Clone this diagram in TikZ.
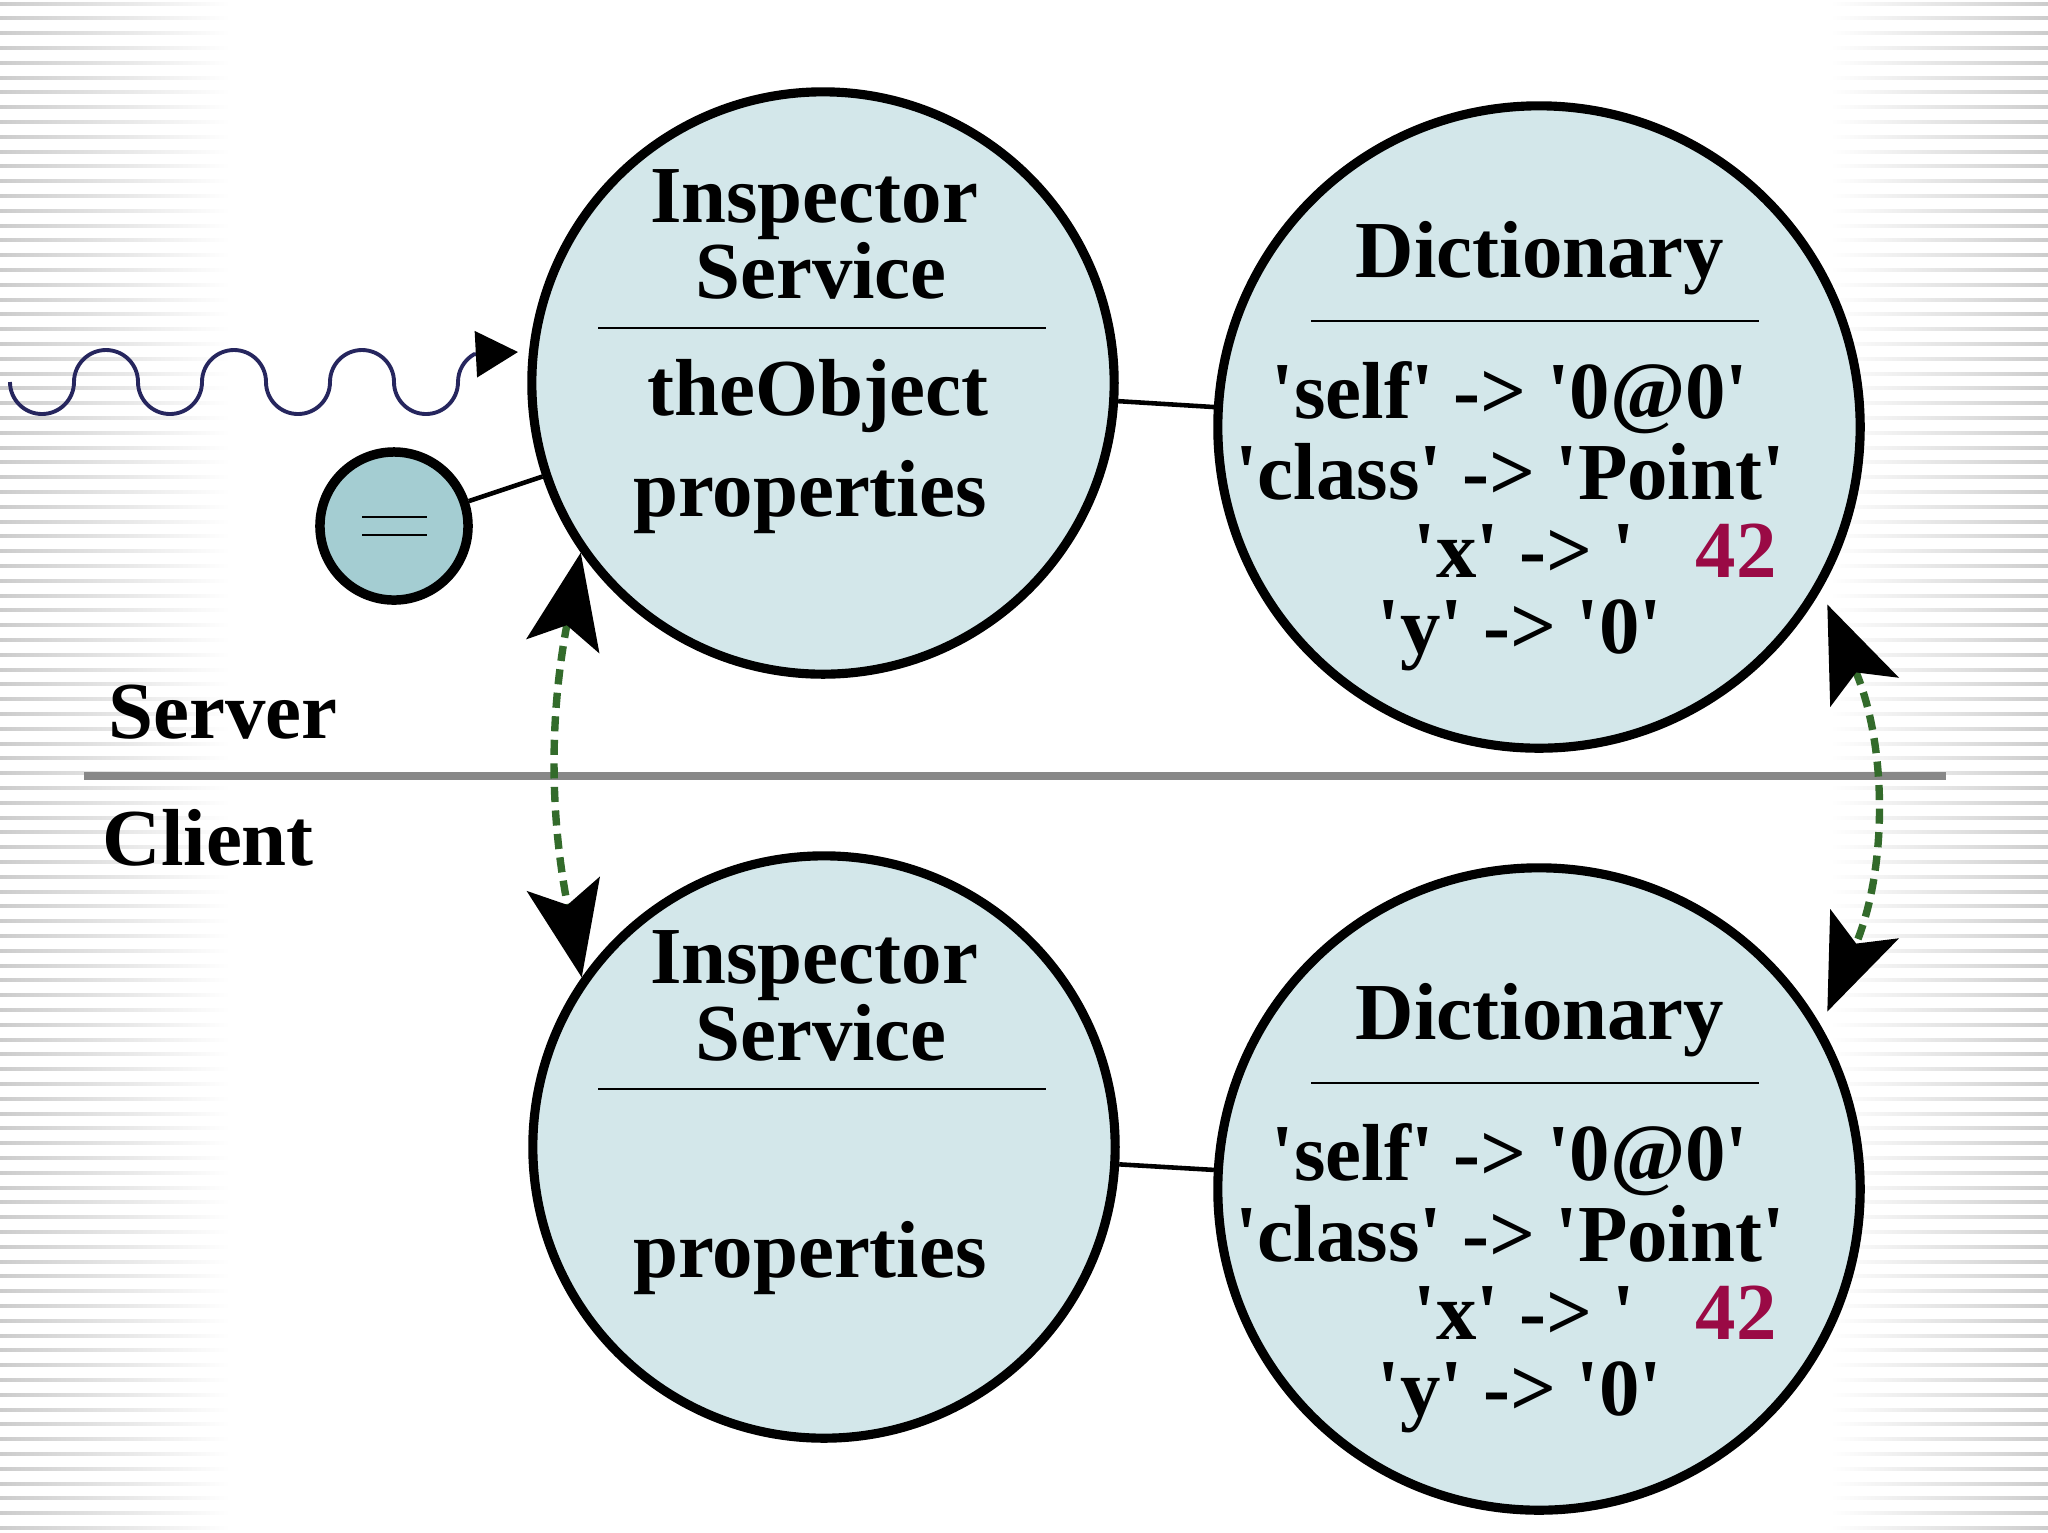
\documentclass[tikz,border=0pt]{standalone}
\usepackage{fontspec}
\setmainfont{Liberation Serif}[Ligatures=TeXOff]
\usetikzlibrary{arrows.meta}

\definecolor{circfill}{HTML}{D3E7EA}
\definecolor{smallfill}{HTML}{A4CDD2}
\definecolor{wavecol}{HTML}{26265E}
\definecolor{syncgreen}{HTML}{336B2B}
\definecolor{sepgray}{HTML}{888888}
\definecolor{numred}{HTML}{9A0A45}

\begin{document}
\begin{tikzpicture}[x=0.01cm, y=-0.01cm,
	bigcirc/.style={draw, circle, line width=2.6pt, fill=circfill, inner sep=0pt},
	lbl/.style={font=\fontsize{23}{23}\selectfont\bfseries, inner sep=0pt, anchor=base},
	divider/.style={line width=0.6pt},
	link/.style={line width=1.3pt},
	sync/.style={syncgreen, line width=2.1pt, dash pattern=on 4.3pt off 2.4pt, <->,
		>={Stealth[color=black, length=27pt, width=21pt, inset=6pt]}}
	]
	
	\fill[white] (0,0) rectangle (2048,1532);
	\useasboundingbox (0,0) rectangle (2048,1532);
	
	% striped margins
	\foreach \y in {2,16.8,...,1532} {
		\shade[left color=black!20, right color=white] (0,\y) rectangle (230,\y+3);
		\shade[left color=white, right color=black!20] (1830,\y) rectangle (2048,\y+3);
	}
	
	% server / client split
	\draw[sepgray, line width=2.2pt] (84,776) -- (1946,776);
	\node[lbl, anchor=base west] (server) at (108,738) {Server};
	\node[lbl, anchor=base west] (client) at (102,865) {Client};
	
	% circles
	\node[bigcirc, minimum size=5.82cm] (insp-s) at (823,383) {};
	\node[bigcirc, minimum size=6.42cm] (dict-s) at (1539,427) {};
	\node[bigcirc, minimum size=5.82cm] (insp-c) at (824,1147) {};
	\node[bigcirc, minimum size=6.42cm] (dict-c) at (1539,1189) {};
	\node[draw, circle, line width=2.7pt, fill=smallfill, minimum size=1.48cm] (eq) at (394,526) {};
	\draw[line width=0.7pt] (362,517) -- (427,517);
	\draw[line width=0.7pt] (362,535) -- (427,535);
	
	\draw[link] (eq) -- (insp-s);
	\draw[link] (insp-s) -- (dict-s);
	\draw[link] (insp-c) -- (dict-c);
	
	% incoming message
	\coordinate (wavetip) at (518,352);
	\draw[wavecol, line width=1.1pt, -{Triangle[color=black, length=12pt, width=13pt]}]
		(10,382) arc[start angle=180, end angle=0, radius=32]
		arc[start angle=180, end angle=360, radius=32]
		arc[start angle=180, end angle=0, radius=32]
		arc[start angle=180, end angle=360, radius=32]
		arc[start angle=180, end angle=0, radius=32]
		arc[start angle=180, end angle=360, radius=32]
		arc[start angle=180, end angle=0, radius=32]
		arc[start angle=180, end angle=240, radius=32] -- (wavetip);
	
	% server side inspector
	\node[lbl] (insp-s-1) at (814,222) {Inspector};
	\node[lbl] (insp-s-2) at (821,298) {Service};
	\draw[divider] (598,328) -- (1046,328);
	\node[lbl] (insp-s-3) at (818,415) {theObject};
	\node[lbl] (insp-s-4) at (810,516) {properties};
	
	% server side dictionary
	\node[lbl] (dict-s-1) at (1540,277) {Dictionary};
	\draw[divider] (1311,321) -- (1759,321);
	\node[lbl] (dict-s-2) at (1510,418) {'self' -> '0@0'};
	\node[lbl] (dict-s-3) at (1510,499) {'class' -> 'Point'};
	\node[lbl, anchor=base west] (dict-s-4) at (1413,577) {'x' -> '};
	\node[lbl, anchor=base west, text=numred] (dict-s-5) at (1695,577) {42};
	\node[lbl] (dict-s-6) at (1520,653) {'y' -> '0'};
	
	% client side inspector
	\node[lbl] (insp-c-1) at (814,983) {Inspector};
	\node[lbl] (insp-c-2) at (821,1060) {Service};
	\draw[divider] (598,1089) -- (1046,1089);
	\node[lbl] (insp-c-3) at (810,1277) {properties};
	
	% client side dictionary
	\node[lbl] (dict-c-1) at (1540,1039) {Dictionary};
	\draw[divider] (1311,1083) -- (1759,1083);
	\node[lbl] (dict-c-2) at (1510,1180) {'self' -> '0@0'};
	\node[lbl] (dict-c-3) at (1510,1261) {'class' -> 'Point'};
	\node[lbl, anchor=base west] (dict-c-4) at (1413,1339) {'x' -> '};
	\node[lbl, anchor=base west, text=numred] (dict-c-5) at (1695,1339) {42};
	\node[lbl] (dict-c-6) at (1520,1415) {'y' -> '0'};
	
	% replication
	\draw[sync] (insp-s.215) to[bend right=11] (insp-c.145);
	\draw[sync, shorten <=4.5pt, shorten >=4.5pt] (dict-s.330) to[bend left=23] (dict-c.30);
	
\end{tikzpicture}
\end{document}
